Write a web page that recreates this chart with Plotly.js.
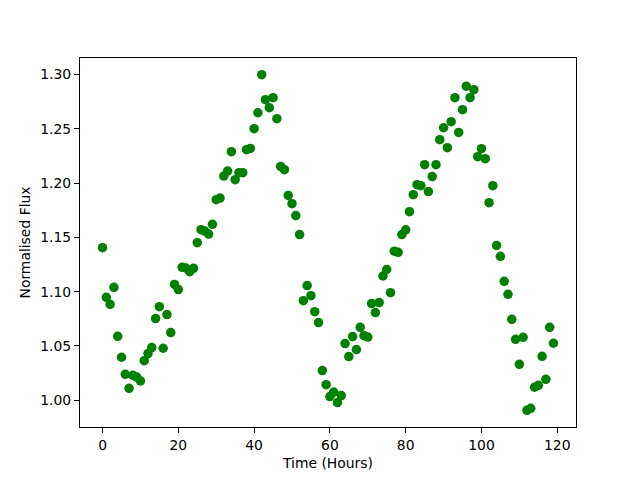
<!DOCTYPE html>
<html>
<head>
<meta charset="utf-8">
<script src="https://cdn.plot.ly/plotly-3.0.1.min.js"></script>
<style>html,body{margin:0;padding:0;background:#fff;}#chart{width:640px;height:480px;}</style>
</head>
<body>
<div id="chart"></div>
<script>
const timeHours = [];
for (let i = 0; i < 120; i++) timeHours.push(i);
const flux = [
1.1405,1.0948,1.0883,1.1040,1.0589,1.0396,1.0239,1.0110,1.0230,1.0214,
1.0178,1.0365,1.0430,1.0485,1.0752,1.0862,1.0479,1.0789,1.0623,1.1067,
1.1019,1.1224,1.1217,1.1184,1.1215,1.1451,1.1571,1.1558,1.1530,1.1620,
1.1847,1.1862,1.2064,1.2110,1.2289,1.2031,1.2095,1.2095,1.2307,1.2319,
1.2500,1.2647,1.2997,1.2767,1.2694,1.2786,1.2592,1.2153,1.2123,1.1886,
1.1810,1.1700,1.1526,1.0917,1.1056,1.0963,1.0816,1.0715,1.0273,1.0144,
1.0034,1.0076,0.9979,1.0043,1.0522,1.0402,1.0586,1.0467,1.0672,1.0595,
1.0582,1.0890,1.0807,1.0899,1.1144,1.1204,1.0991,1.1373,1.1362,1.1525,
1.1569,1.1736,1.1893,1.1985,1.1976,1.2169,1.1921,1.2059,1.2169,1.2399,
1.2509,1.2325,1.2565,1.2786,1.2466,1.2675,1.2892,1.2786,1.2859,1.2243,
1.2316,1.2224,1.1819,1.1976,1.1426,1.1325,1.1095,1.0975,1.0745,1.0561,
1.0331,1.0580,0.9908,0.9926,1.0120,1.0138,1.0405,1.0193,1.0672,1.0525
];
const xTicks = [0,20,40,60,80,100,120];
const yTicks = [1.00,1.05,1.10,1.15,1.20,1.25,1.30];

const trace = {
  x: timeHours, y: flux, type: 'scatter', mode: 'markers',
  marker: {color: '#008000', size: 9.5, line: {width: 0}},
  hoverinfo: 'skip'
};
const axisCommon = {
  showgrid: false, zeroline: false, showline: true, mirror: true,
  linecolor: '#000', linewidth: 1, ticks: 'outside', ticklen: 5, tickwidth: 1,
  tickcolor: '#000', tickfont: {family: 'DejaVu Sans', size: 13.9, color: '#000'}
};
const layout = {
  width: 640, height: 480,
  margin: {l: 80, r: 64, t: 58, b: 53, pad: 0},
  paper_bgcolor: '#fff', plot_bgcolor: '#fff',
  showlegend: false,
  xaxis: Object.assign({}, axisCommon, {
    range: [-5.95, 124.95], tickvals: xTicks, ticktext: xTicks.map(String),
    title: {text: 'Time (Hours)', font: {family: 'DejaVu Sans', size: 13.9, color: '#000'}, standoff: 6}
  }),
  yaxis: Object.assign({}, axisCommon, {
    range: [0.9754, 1.3151], tickvals: yTicks, ticktext: yTicks.map(v => v.toFixed(2)),
    title: {text: 'Normalised Flux', font: {family: 'DejaVu Sans', size: 13.9, color: '#000'}, standoff: 6}
  })
};
Plotly.newPlot('chart', [trace], layout, {staticPlot: true, displayModeBar: false});
</script>
</body>
</html>
